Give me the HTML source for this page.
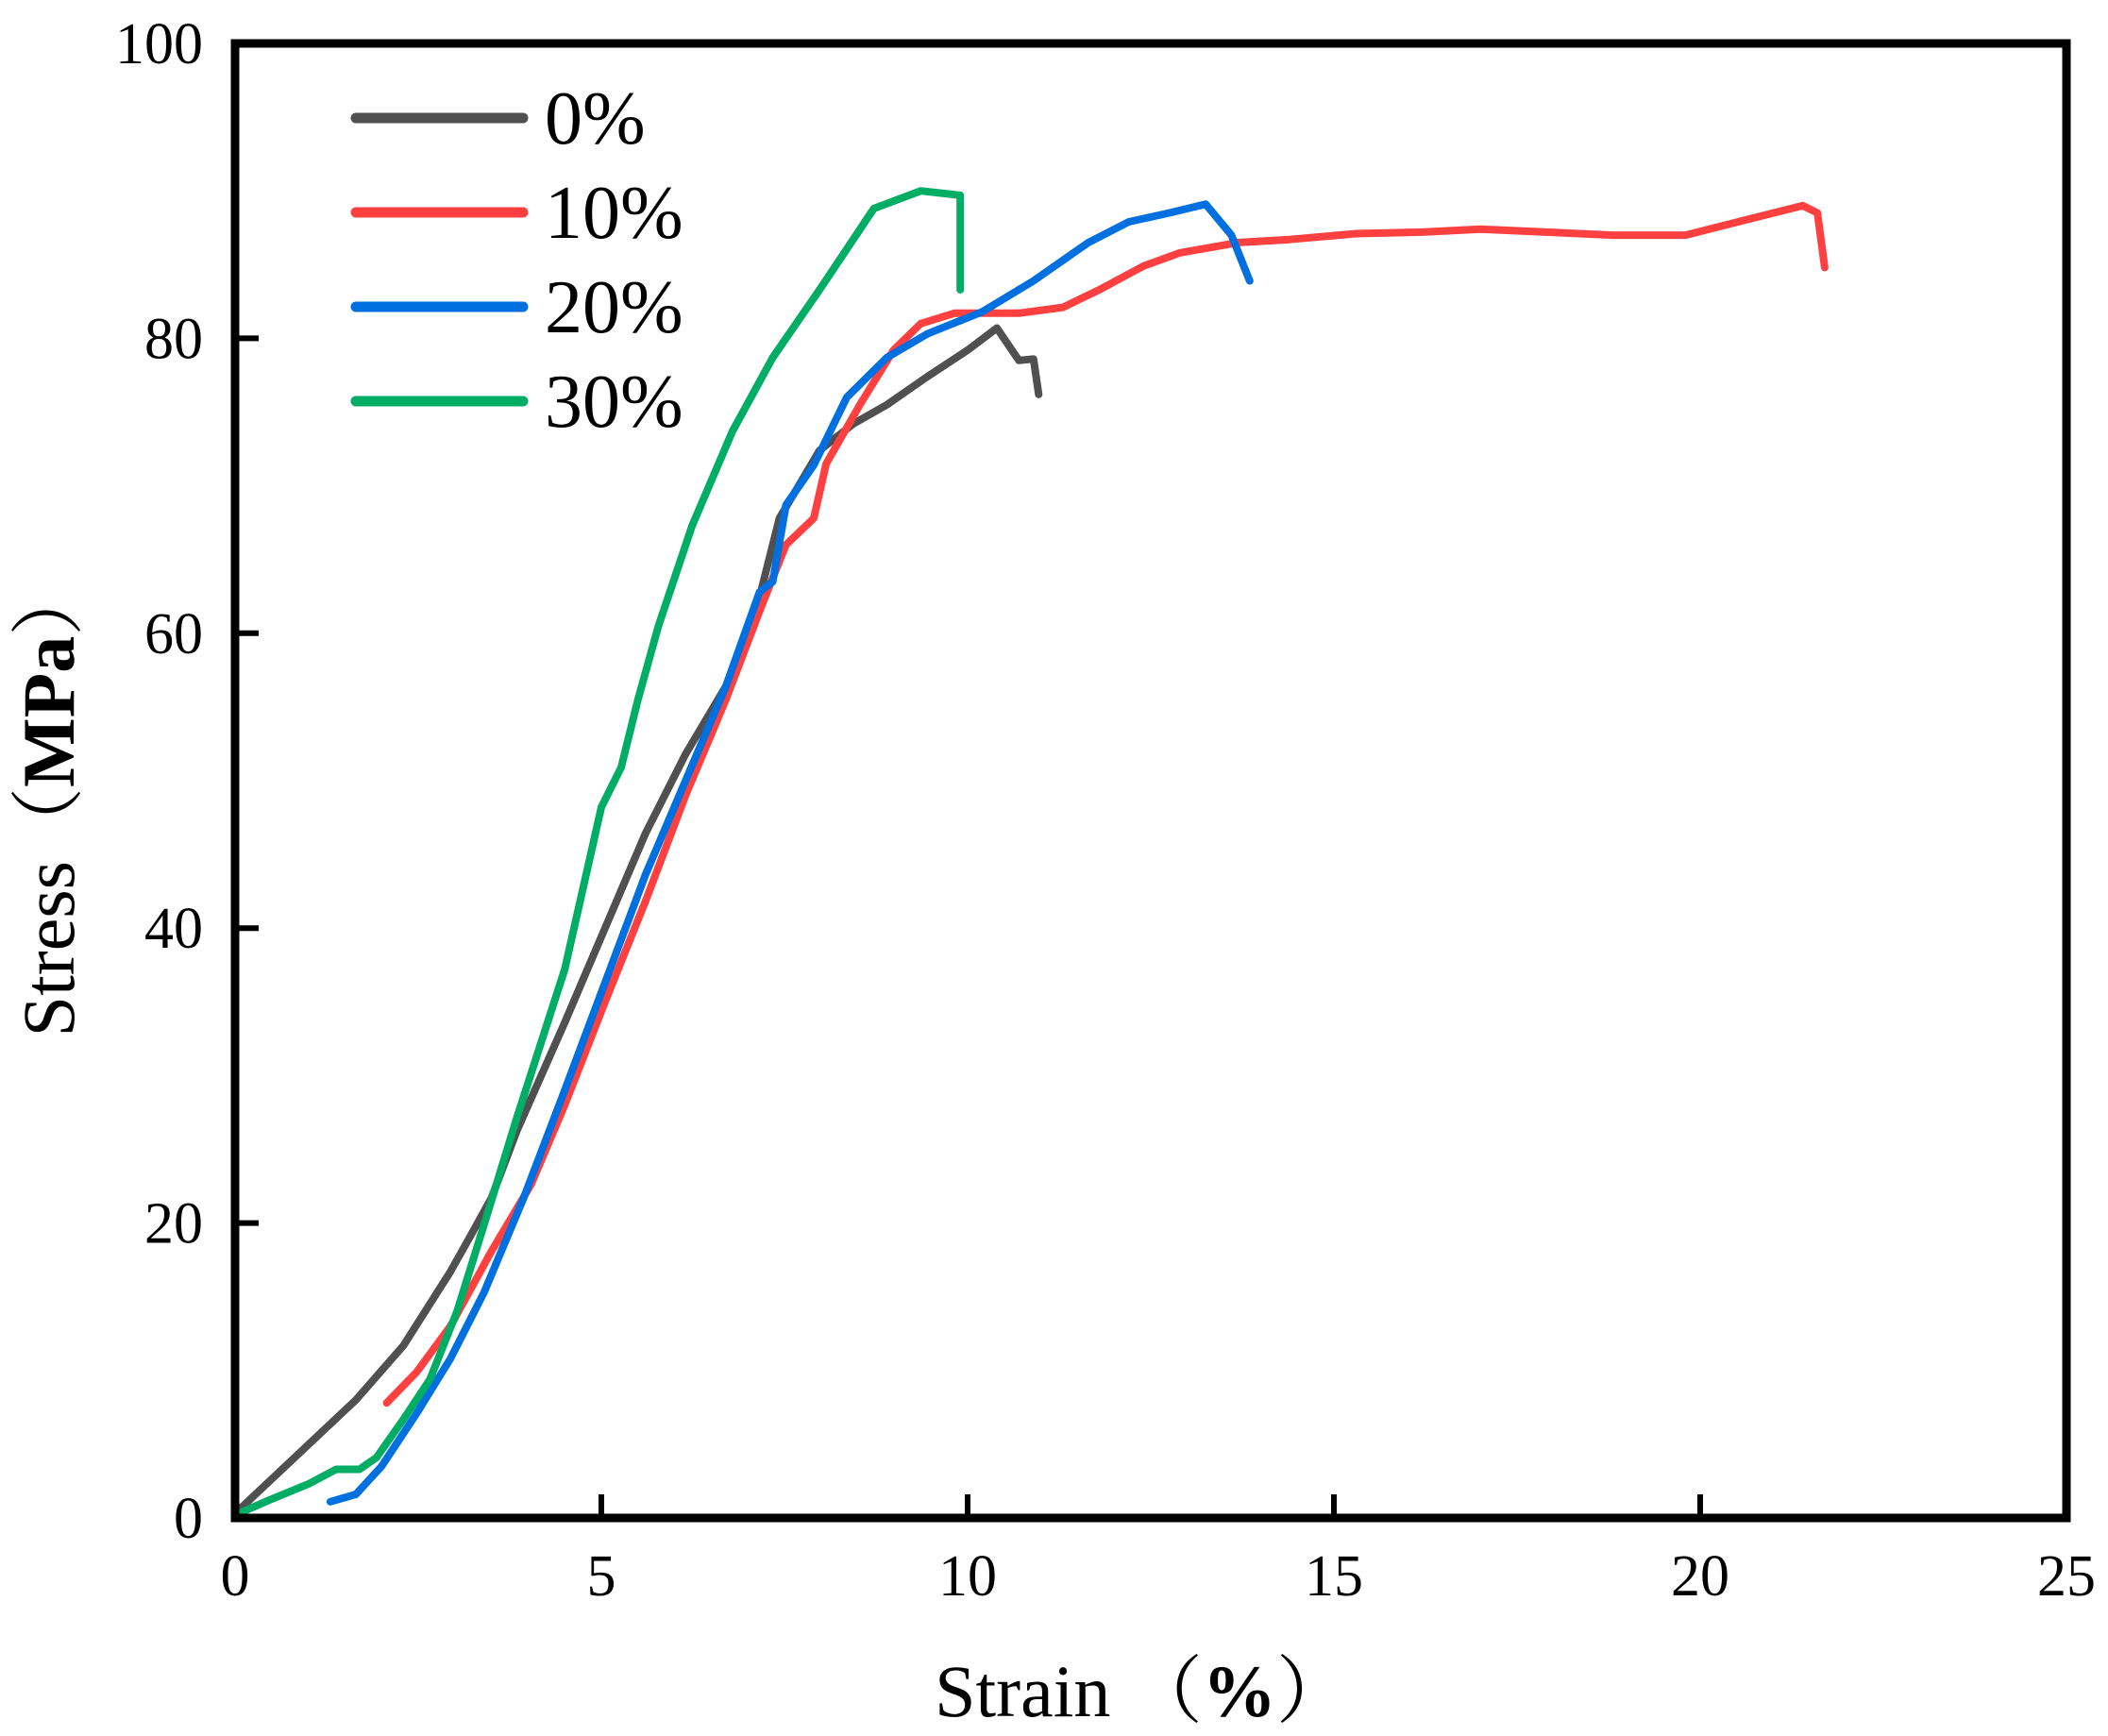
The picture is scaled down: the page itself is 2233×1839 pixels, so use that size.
<!DOCTYPE html>
<html><head><meta charset="utf-8"><style>
html,body{margin:0;padding:0;background:#fff;}
svg{display:block;font-family:"Liberation Serif","Noto Serif CJK SC",serif;}
</style></head><body>
<svg id="chart" width="2233" height="1839" viewBox="0 0 2233 1839" xmlns="http://www.w3.org/2000/svg">
<g id="series"></g>
<rect x="249" y="46" width="1940" height="1562" fill="none" stroke="#000" stroke-width="9"/>
<g id="ticks"></g>
<text x="1210" y="1818" font-size="78" text-anchor="middle">Strain （<tspan font-weight="bold">%</tspan>）</text>
<text transform="translate(78,847) rotate(-90)" font-size="78" text-anchor="middle">Stress（<tspan font-weight="bold">MPa</tspan>）</text>
<g id="legend"></g>
</svg>
<script>
const xTicks=[0,5,10,15,20,25];
const yTicks=[0,20,40,60,80,100];
const seriesNames=["0%","10%","20%","30%"];
const seriesColors=["#505050","#ff4040","#0070e0","#00ad65"];
const s0x=[0,1.65,2.3,2.94,3.2,3.5,3.85,4.5,5.05,5.6,6.15,6.7,7.06,7.43,7.98,8.44,8.9,9.45,10,10.4,10.7,10.9,10.97];
const s0y=[0.3,8,11.7,16.7,19,21.7,26.3,33.6,40,46.4,51.8,56.4,60.5,67.8,72.4,74.2,75.5,77.4,79.2,80.7,78.5,78.6,76.2];
const s1x=[2.07,2.48,2.94,3.49,4.04,4.5,5.05,5.6,6.15,6.7,7.16,7.52,7.9,8.07,8.53,8.99,9.36,9.82,10.7,11.3,11.8,12.4,12.9,13.7,14.4,15.3,16.2,17,17.9,18.8,19.8,20.6,21.4,21.6,21.7];
const s1y=[7.8,9.9,13,18,22.6,28,35,41.8,49,55.5,61.5,66,67.8,71.5,75.5,79.2,81,81.7,81.7,82.1,83.3,84.9,85.8,86.5,86.7,87.1,87.2,87.4,87.2,87,87,88,89,88.5,84.8];
const s2x=[1.3,1.65,2.0,2.48,2.94,3.4,3.94,4.5,5.05,5.6,6.15,6.7,7.16,7.34,7.52,7.9,8.35,8.9,9.45,10.2,10.9,11.65,12.2,12.75,13.25,13.6,13.85];
const s2y=[1.1,1.6,3.5,7.1,10.8,15.3,21.7,29,36.3,43.6,50,56.4,62.8,63.5,68.7,71.4,76,78.7,80.3,81.8,83.9,86.5,87.9,88.5,89.1,87,83.9];
const s3x=[0,0.46,1.0,1.38,1.7,1.93,2.3,2.66,3.03,3.4,3.85,4.5,5.0,5.27,5.5,5.78,6.24,6.79,7.34,7.98,8.72,9.36,9.9,9.9];
const s3y=[0.2,1.2,2.3,3.3,3.3,4.1,6.7,9.4,14,19.9,27.2,37.2,48.2,50.9,55.5,60.5,67.3,73.7,78.7,83.3,88.8,90,89.7,83.3];
const allX=[s0x,s1x,s2x,s3x], allY=[s0y,s1y,s2y,s3y];
const NS="http://www.w3.org/2000/svg";
const X0=249,X1=2189,Y0=1608,Y1=46;
const sx=v=>X0+(v-0)/(25-0)*(X1-X0);
const sy=v=>Y0-(v-0)/(100-0)*(Y0-Y1);
const sg=document.getElementById('series');
allX.forEach((xs,i)=>{
  const p=document.createElementNS(NS,'polyline');
  p.setAttribute('points',xs.map((x,j)=>sx(x).toFixed(1)+','+sy(allY[i][j]).toFixed(1)).join(' '));
  p.setAttribute('fill','none');p.setAttribute('stroke',seriesColors[i]);
  p.setAttribute('stroke-width','8');p.setAttribute('stroke-linejoin','round');p.setAttribute('stroke-linecap','round');
  
  
  sg.appendChild(p);
});
const tg=document.getElementById('ticks');
xTicks.forEach(t=>{
  const l=document.createElementNS(NS,'line');
  l.setAttribute('x1',sx(t));l.setAttribute('x2',sx(t));l.setAttribute('y1',Y0);l.setAttribute('y2',Y0-25);
  l.setAttribute('stroke','#000');l.setAttribute('stroke-width','6');
  
  
  tg.appendChild(l);
  const tx=document.createElementNS(NS,'text');
  tx.setAttribute('x',sx(t));tx.setAttribute('y',1690);tx.setAttribute('font-size','62');tx.setAttribute('text-anchor','middle');
  tx.textContent=t;
  
  
  tg.appendChild(tx);
});
yTicks.forEach(t=>{
  const l=document.createElementNS(NS,'line');
  l.setAttribute('x1',X0);l.setAttribute('x2',X0+25);l.setAttribute('y1',sy(t));l.setAttribute('y2',sy(t));
  l.setAttribute('stroke','#000');l.setAttribute('stroke-width','6');
  
  
  tg.appendChild(l);
  const tx=document.createElementNS(NS,'text');
  tx.setAttribute('x',215);tx.setAttribute('y',sy(t)+21);tx.setAttribute('font-size','62');tx.setAttribute('text-anchor','end');
  tx.textContent=t;
  
  
  tg.appendChild(tx);
});
const lg=document.getElementById('legend');
seriesNames.forEach((n,i)=>{
  const y=125+i*100;
  const l=document.createElementNS(NS,'line');
  l.setAttribute('x1',377);l.setAttribute('x2',554);l.setAttribute('y1',y);l.setAttribute('y2',y);
  l.setAttribute('stroke',seriesColors[i]);l.setAttribute('stroke-width','11');l.setAttribute('stroke-linecap','round');
  
  
  lg.appendChild(l);
  const tx=document.createElementNS(NS,'text');
  tx.setAttribute('x',577);tx.setAttribute('y',y+27);tx.setAttribute('font-size','80');
  tx.textContent=n;
  
  
  lg.appendChild(tx);
});
</script>
</body></html>
